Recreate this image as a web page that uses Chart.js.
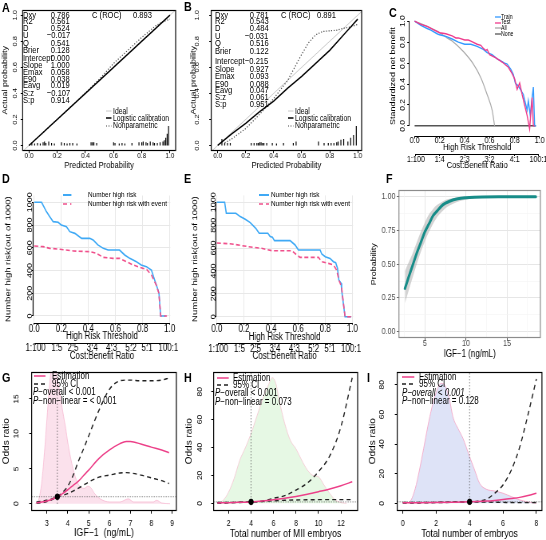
<!DOCTYPE html>
<html><head><meta charset="utf-8">
<script src="https://cdn.jsdelivr.net/npm/chart.js@4.4.1/dist/chart.umd.min.js"></script>
<style>
html,body{margin:0;padding:0;background:#fff;width:546px;height:540px;overflow:hidden;position:relative;font-family:'Liberation Sans',Arial,sans-serif}
.w{position:absolute}
.t{position:absolute;white-space:nowrap;color:#000;z-index:5}
</style></head><body>
<script>
const FR="'Liberation Sans',Arial,sans-serif";
const K=0.8; // horizontal squeeze of the figure

// ================= DATA =================
const unitTicks=[0,0.2,0.4,0.6,0.8,1.0];
const unitLabels=['0.0','0.2','0.4','0.6','0.8','1.0'];
const statNames=['Dxy','R2','D','U','Q','Brier','Intercept','Slope','Emax','E90','Eavg','S:z','S:p'];
const statsA=['0.786','0.561','0.524','\u22120.017','0.541','0.128','0.000','1.000','0.058','0.038','0.019','\u22120.107','0.914'];
const statsB=['0.781','0.543','0.484','\u22120.031','0.516','0.122','\u22120.215','0.927','0.093','0.088','0.047','0.061','0.951'];
const rocA='0.893', rocB='0.891';
const idealX=[-0.05,1.05], idealY=[-0.05,1.05];
const aLogX=[0,0.5,1], aLogY=[0,0.5,1];
const aNpX=[0.0,0.1,0.2,0.3,0.4,0.5,0.55,0.6,0.7,0.8,0.9,0.95,1.0];
const aNpY=[0.0,0.1,0.2,0.3,0.405,0.51,0.57,0.63,0.73,0.83,0.92,0.95,0.97];
const spAx=[0.02,0.04,0.06,0.08,0.10,0.11,0.12,0.14,0.16,0.18,0.23,0.25,0.27,0.29,0.31,0.34,0.44,0.45,0.46,0.48,0.60,0.61,0.64,0.66,0.68,0.73,0.78,0.80,0.81,0.83,0.84,0.86,0.88,0.89,0.91,0.93,0.95,0.96,0.97,0.98,0.99];
const spAh=[0.02,0.015,0.02,0.015,0.025,0.03,0.02,0.03,0.02,0.015,0.025,0.02,0.015,0.02,0.02,0.015,0.025,0.025,0.025,0.02,0.025,0.02,0.015,0.02,0.015,0.02,0.025,0.025,0.03,0.025,0.02,0.03,0.025,0.02,0.02,0.025,0.03,0.04,0.06,0.09,0.15];
const bLogX=[0,0.05,0.1,0.2,0.3,0.4,0.5,0.6,0.7,0.8,0.9,0.95,1.0];
const bLogY=[0,0.045,0.09,0.17,0.26,0.34,0.44,0.53,0.63,0.73,0.85,0.91,0.97];
const bNpX=[0.05,0.1,0.2,0.3,0.4,0.5,0.55,0.6,0.65,0.7,0.75,0.8,0.85,0.9,0.95,1.0];
const bNpY=[0.02,0.05,0.13,0.24,0.36,0.5,0.6,0.7,0.79,0.85,0.875,0.88,0.885,0.9,0.91,0.93];
const spBx=[0.03,0.05,0.07,0.09,0.24,0.26,0.28,0.29,0.30,0.31,0.32,0.33,0.35,0.39,0.42,0.47,0.54,0.56,0.72,0.76,0.79,0.81,0.83,0.85,0.86,0.88,0.90,0.93,0.95,0.97,0.99];
const spBh=[0.05,0.02,0.02,0.02,0.02,0.02,0.02,0.02,0.025,0.025,0.02,0.02,0.02,0.02,0.015,0.02,0.02,0.03,0.03,0.02,0.02,0.02,0.02,0.025,0.03,0.045,0.05,0.03,0.06,0.08,0.15];

const cRatioC=['1:100','1:4','2:3','3:2','4:1','100:1'];
const cTrainX=[0,0.05,0.1,0.13,0.18,0.2,0.25,0.3,0.35,0.4,0.45,0.5,0.55,0.58,0.62,0.66,0.69,0.72,0.74,0.77,0.79,0.805,0.83,0.85,0.87,0.89,0.9,0.91,0.925,0.94,0.95,0.96,0.97];
const cTrainY=[1,0.96,0.93,0.915,0.88,0.87,0.855,0.83,0.8,0.78,0.78,0.76,0.73,0.7,0.68,0.64,0.62,0.6,0.59,0.54,0.49,0.41,0.38,0.34,0.3,0.2,0.15,0.24,0.1,0.27,0.37,0.0,0.0];
const cTestX=[0,0.05,0.1,0.15,0.2,0.25,0.3,0.33,0.35,0.4,0.43,0.45,0.5,0.53,0.55,0.57,0.58,0.6,0.65,0.7,0.75,0.78,0.8,0.82,0.84,0.86,0.88,0.9,0.92,0.935,0.94,0.95,0.96];
const cTestY=[1,0.97,0.95,0.92,0.89,0.88,0.86,0.84,0.84,0.82,0.82,0.81,0.78,0.77,0.74,0.72,0.73,0.68,0.65,0.61,0.56,0.5,0.45,0.35,0.41,0.3,0.2,0.1,-0.03,0.2,0.27,0.0,0.0];
const cAllX=[0,0.1,0.2,0.26,0.3,0.39,0.47,0.53,0.58,0.62,0.64];
const cAllY=[1,0.95,0.89,0.84,0.81,0.71,0.59,0.46,0.3,0.15,0.0];
const cNoneX=[0,0.97], cNoneY=[0,0];

const cbLabels=['1:100','1:5','2:5','3:4','4:3','5:2','5:1','100:1'];
const nTicks=[0,200,400,600,800,1000];
const dHighX=[0,0.054,0.09,0.115,0.14,0.177,0.2,0.238,0.263,0.3,0.35,0.41,0.435,0.47,0.51,0.545,0.63,0.668,0.705,0.73,0.754,0.79,0.828,0.865,0.889,0.914,0.921,0.934,0.97];
const dHighY=[1000,1000,918,874,830,824,800,786,742,727,683,683,669,625,595,580,580,537,507,493,478,449,434,405,317,229,200,0,0];
const dEvX=[0,0.066,0.115,0.19,0.29,0.41,0.46,0.51,0.58,0.63,0.68,0.73,0.78,0.83,0.865,0.9,0.92,0.934,0.98];
const dEvY=[616,610,595,587,572,566,551,516,507,507,478,449,428,410,361,273,200,0,0];
const eHighX=[0,0.057,0.069,0.14,0.172,0.209,0.246,0.287,0.312,0.376,0.393,0.41,0.425,0.54,0.577,0.602,0.762,0.774,0.8,0.835,0.86,0.877,0.89,0.9,0.917,0.921,0.946,0.99];
const eHighY=[1000,1000,904,904,875,851,822,773,729,729,700,694,665,665,627,583,583,548,525,510,481,472,423,321,292,233,0,0];
const eEvX=[0,0.11,0.233,0.33,0.405,0.553,0.59,0.614,0.75,0.774,0.823,0.86,0.884,0.9,0.92,0.946,0.99];
const eEvY=[644,636,612,598,577,577,539,519,519,481,466,452,408,321,262,0,0];

const fX=[2.57,3,3.5,4,4.5,5,5.5,6,6.5,7,7.5,8,9,10,11,12,14,16,18.5];
const fY=[0.32,0.40,0.49,0.58,0.66,0.74,0.80,0.86,0.895,0.93,0.952,0.967,0.985,0.993,0.997,0.999,1.0,1.0,1.0];
const fLo=[0.21,0.30,0.40,0.50,0.59,0.67,0.74,0.80,0.85,0.885,0.915,0.935,0.963,0.978,0.988,0.994,0.998,1.0,1.0];
const fHi=[0.45,0.51,0.58,0.66,0.74,0.81,0.87,0.91,0.94,0.96,0.975,0.985,0.995,0.999,1.0,1.0,1.0,1.0,1.0];
const fTicksX=[5,10,15], fTicksY=[0,0.25,0.5,0.75,1.0];
const fLabelsY=['0.00','0.25','0.50','0.75','1.00'];
const fMinorX=[2.5,7.5,12.5,17.5], fMinorY=[0.125,0.375,0.625,0.875];

const gX=[2.5,2.75,3,3.25,3.5,3.75,4,4.25,4.5,4.75,5,5.5,6,6.5,6.8,7,7.5,8,8.5,8.85];
const gEst=[0.15,0.25,0.4,0.65,1.0,1.45,2.0,2.6,3.2,4.0,4.8,6.5,7.7,8.6,8.9,8.9,8.55,8.1,7.7,7.3];
const gUp=[0.25,0.35,0.5,0.7,1.0,1.6,2.5,4.0,6.0,7.8,9.7,13.4,16.4,17.6,17.7,17.7,17.6,17.6,17.7,18.0];
const gLo=[0.08,0.15,0.3,0.6,1.0,1.2,1.45,1.8,2.2,2.65,3.1,3.8,4.1,4.4,4.45,4.4,4.1,3.7,3.3,2.9];
const gDenX=[2.45,2.6,2.75,2.9,3.0,3.1,3.2,3.3,3.4,3.5,3.6,3.7,3.8,3.9,4.0,4.2,4.4,4.6,4.8,4.95,5.1,5.3,5.55,6.0,6.5,6.9,7.15,8.1,8.25,8.5,8.9];
const gDenY=[0,0.5,3,8,12,16,19,20,19.5,18,16.2,14.3,12.5,10.8,8.8,5.7,3.5,2.4,2.2,2.5,2.3,1.4,0.7,0.25,0.25,0.7,0.25,0.25,0.5,0.1,0];
const gRef=3.5;
const hX=[1,2,3,4,5,6,7,8,9,10,11,12,13];
const hEst=[0.25,0.45,0.7,1.0,1.6,2.5,3.6,4.9,6.5,8.3,10.2,12.6,15.4];
const hUp=[0.6,0.65,0.75,1.0,1.6,3.6,5.5,9.5,14.5,22.7,34,55,90];
const hLo=[0.1,0.3,0.6,1.0,1.3,1.8,2.2,2.4,2.5,2.6,2.6,2.6,2.6];
const hDenX=[1.1,1.5,2,2.5,3,3.5,4,4.5,5,5.5,5.9,6.2,6.5,7,7.5,8,8.5,9,9.5,10,10.5,11,11.5,12,12.5];
const hDenY=[0,2,8,18,31,40,50,62,74,84,90,86,74,57,45,39,31,24,20,19,13,7,2.4,0.5,0];
const hRef=4;
const iX=[0,1,2,3,4,4.5,5,5.5,6,6.5,7,7.5,8];
const iEst=[0.3,0.4,0.55,0.75,1.0,1.2,1.5,1.95,2.5,3.2,4.0,5.2,6.8];
const iUp=[0.6,0.6,0.65,0.8,1.0,1.4,2.7,6.8,12.4,22.5,38,60,84];
const iLo=[0.1,0.25,0.45,0.7,1.0,0.9,0.8,0.7,0.6,0.5,0.45,0.45,0.5];
const iDenX=[0.3,0.5,0.75,1,1.25,1.5,1.75,2,2.3,2.5,2.8,3,3.3,3.6,4,4.3,4.6,5,5.5,6,6.5,7,7.5,8];
const iDenY=[0,2.2,10,22.5,37,52,65,75,81,80,70,58.5,50.7,44,31.5,22.5,13.5,9.5,8.3,6.8,4.5,2.3,0.9,0];
const iRef=4;

// ================= HELPERS =================
const meas=document.createElement('canvas').getContext('2d');
const textW=(s,size,fam)=>{meas.font=size+'px '+fam;return meas.measureText(s).width;};
const pts=(xs,ys)=>xs.map((x,i)=>({x,y:ys[i]}));
const spikes=(xs,hs)=>xs.flatMap((x,i)=>[{x,y:0},{x,y:hs[i]},{x,y:null}]);
const ratioPos=l=>{const [a,b]=l.split(':').map(Number);return a/(a+b);};
const L=(data,color,w,o={})=>Object.assign({data,showLine:true,borderColor:color,backgroundColor:color,borderWidth:w,pointRadius:0,fill:false,tension:0,xAxisID:'x',yAxisID:'y'},o);

function axX(a,top,bottom,weight){
  const tl=a.tl??3, h=bottom-top, size=a.size;
  const lpad=a.labY-top-tl-size/2;
  const ts=a.titleSize||9;
  const tpad=a.title?bottom-a.titleY-ts/2:0;
  const tv=a.tickVals;
  return {type:'linear',position:'bottom',weight,min:a.min,max:a.max,bounds:'data',
    afterBuildTicks:s=>{s.ticks=tv.map(v=>({value:v}));},
    afterFit:s=>{s.height=h;s.paddingLeft=s.paddingRight=s.paddingTop=s.paddingBottom=0;},
    ticks:{display:a.labels!==null,autoSkip:false,maxRotation:0,minRotation:0,padding:lpad,color:a.color||'#000',font:{family:FR,size,lineHeight:1},callback:(v,i)=>a.labels?a.labels[i]:''},
    grid:{display:true,drawOnChartArea:!!a.grid,color:a.grid||'#000',lineWidth:a.gridW||1,drawTicks:tl>0,tickLength:tl,tickColor:a.tickColor||'#000',tickWidth:1},
    border:{display:false},
    title:a.title?{display:true,text:a.title,color:'#000',font:{family:FR,size:ts,lineHeight:1},padding:{top:0,bottom:tpad}}:{display:false}};
}
// left/right given in page px; converted to internal (unsqueezed) px
function axY(a,left,right){
  const tl=a.tl??3, w=(right-left)/K, size=a.size;
  const rot=a.rot!==false;
  let lpad=0;
  if(a.labels){
    if(rot){const widest=Math.max(...a.labels.map(s=>textW(s,size,FR)));lpad=(right-a.labX)/K-tl-widest/2;}
    else lpad=(right-a.labX)/K-tl;
  }
  const ts=a.titleSize||9;
  const tpad=a.title?(a.titleX-left)/K-ts/2:0;
  const tv=a.tickVals;
  return {type:'linear',position:'left',weight:a.weight||0,min:a.min,max:a.max,bounds:'data',
    afterBuildTicks:s=>{s.ticks=tv.map(v=>({value:v}));},
    afterFit:s=>{s.width=w;s.paddingLeft=s.paddingRight=s.paddingTop=s.paddingBottom=0;},
    ticks:{display:!!a.labels,autoSkip:false,minRotation:rot?90:0,maxRotation:rot?90:0,crossAlign:rot?'center':'near',padding:lpad,color:a.color||'#000',font:{family:FR,size,lineHeight:1},callback:(v,i)=>a.labels?a.labels[i]:''},
    grid:{display:true,drawOnChartArea:!!a.grid,color:a.grid||'#000',lineWidth:a.gridW||1,drawTicks:tl>0,tickLength:tl,tickColor:a.tickColor||'#000',tickWidth:1},
    border:{display:false},
    title:a.title?{display:true,text:a.title,color:'#000',font:{family:FR,size:ts,lineHeight:1},padding:{top:tpad,bottom:0}}:{display:false}};
}

const framePlugin={id:'frame',afterDatasetsDraw(chart,args,o){
  if(!o||!o.on)return;const {left,top,right,bottom}=chart.chartArea;const c=chart.ctx;
  c.save();c.strokeStyle=o.color||'#000';c.lineWidth=o.width||1.2;
  c.strokeRect(left,Math.round(top)+0.5,right-left,Math.round(bottom)-Math.round(top)-1);c.restore();}};
const raxisPlugin={id:'raxis',afterDraw(chart,args,o){
  if(!o||!o.ids)return;const c=chart.ctx;c.save();c.strokeStyle='#000';c.lineWidth=1.1;
  o.ids.forEach(id=>{const s=chart.scales[id];const t=s.ticks;const a=s.getPixelForValue(t[0].value),b=s.getPixelForValue(t[t.length-1].value);
    c.beginPath();if(s.isHorizontal()){const y=Math.round(s.top)+0.5;c.moveTo(a,y);c.lineTo(b,y);}else{const x=s.right-0.6;c.moveTo(x,a);c.lineTo(x,b);}c.stroke();});
  c.restore();}};
Chart.register(framePlugin,raxisPlugin);

function build(o){
  const [bx,by,bw,bh]=o.box,[Lf,Tp,Rt,Bt]=o.area;
  const iw=Math.round(bw/K);
  const wrap=document.createElement('div');wrap.className='w';
  wrap.style.cssText=`left:${bx}px;top:${by}px;width:${bw}px;height:${bh}px`;
  const cv=document.createElement('canvas');cv.width=iw;cv.height=bh;cv.style.cssText=`width:${bw}px;height:${bh}px;display:block`;
  wrap.appendChild(cv);document.body.appendChild(wrap);
  const scales={};
  scales.x=axX(o.x,Bt,o.x2?o.x2.line:by+bh,0);
  if(o.x2)scales.x2=axX(Object.assign({min:o.x.min,max:o.x.max},o.x2),o.x2.line,by+bh,1);
  scales.y=axY(o.y,bx,Lf);
  if(o.extra)Object.assign(scales,o.extra);
  const n=o.datasets.length;
  o.datasets.forEach((d,i)=>{d.order=n-i;});
  new Chart(cv,{type:'scatter',data:{datasets:o.datasets},options:{responsive:false,maintainAspectRatio:false,animation:false,events:[],devicePixelRatio:1,
    layout:{autoPadding:false,padding:{left:0,top:Tp-by,right:iw-(Rt-bx)/K,bottom:0}},
    scales,plugins:{legend:{display:false},tooltip:{enabled:false},frame:o.frame||{},raxis:{ids:o.raxis||[]}}}});
}
function T(x,y,html,size,o={}){
  const d=document.createElement('div');d.className='t';d.innerHTML=html;
  d.style.top=(y-size/2)+'px';d.style.fontSize=size+'px';d.style.lineHeight=size+'px';
  const k=o.k??K;
  if(o.right){d.style.right=(546-x)+'px';d.style.transformOrigin='right center';}
  else{d.style.left=x+'px';d.style.transformOrigin='left center';}
  d.style.transform=`scaleX(${k})`;
  if(o.bold)d.style.fontWeight='bold';
  d.style.fontFamily=FR;
  if(o.color)d.style.color=o.color;
  document.body.appendChild(d);
}
function S(x1,x2,y,color,w,dash){
  const ns='http://www.w3.org/2000/svg';const s=document.createElementNS(ns,'svg');
  s.setAttribute('width',x2-x1);s.setAttribute('height',6);
  s.style.cssText=`position:absolute;left:${x1}px;top:${y-3}px;z-index:5;overflow:visible`;
  const l=document.createElementNS(ns,'line');l.setAttribute('x1',0);l.setAttribute('x2',x2-x1);l.setAttribute('y1',3);l.setAttribute('y2',3);
  l.setAttribute('stroke',color);l.setAttribute('stroke-width',w);if(dash)l.setAttribute('stroke-dasharray',dash);
  s.appendChild(l);document.body.appendChild(s);
}

// ================= PANELS =================
const calib=(ox,xmin,xmax,logX,logY,npX,npY,spx,sph,labX,titleX)=>build({
  box:[ox,0,182,180],area:[ox===0?22.7:211.3,10,ox===0?176:362,150.7],frame:{on:true},
  x:{min:xmin,max:xmax,tickVals:unitTicks,labels:unitLabels,size:8,labY:155.3,tl:2.5,title:'Predicted Probability',titleSize:9.5,titleY:165.3},
  y:{min:-0.04,max:1.04,tickVals:unitTicks,labels:unitLabels,size:7.5,labX,tl:2.5,title:'Actual probability',titleSize:9,titleX},
  datasets:[
    L(pts(idealX,idealY),'#c8c8c8',1),
    L(spikes(spx,sph),'#000',1.2),
    L(pts(npX,npY),'#444',1.2,{borderDash:[1.2,2]}),
    L(pts(logX,logY),'#000',1.5)
  ]});
calib(0,-0.045,1.04,aLogX,aLogY,aNpX,aNpY,spAx,spAh,15,5);
calib(182,-0.046,1.028,bLogX,bLogY,bNpX,bNpY,spBx,spBh,197,193.7);

build({box:[364,0,182,180],area:[409.7,16.8,545,135.5],raxis:['x','x2','y'],
  x:{min:-0.04,max:1.04,tickVals:unitTicks,labels:unitLabels,size:9,labY:140.3,tl:3,title:'High Risk Threshold',titleSize:9.5,titleY:147},
  x2:{line:154,tickVals:cRatioC.map(ratioPos),labels:cRatioC,size:9,labY:159.5,tl:2,title:'Cost:Benefit Ratio',titleSize:9.5,titleY:165.3},
  y:{min:-0.092,max:1.042,tickVals:unitTicks,labels:unitLabels,size:8.5,labX:403,tl:3,title:'Standardized net benefit',titleSize:9,titleX:393},
  datasets:[
    L(pts(cNoneX,cNoneY),'#555',1.5),
    L(pts(cAllX,cAllY),'#a8a8a8',1.2,{cubicInterpolationMode:'monotone'}),
    L(pts(cTrainX,cTrainY),'#3399ff',1.4),
    L(pts(cTestX,cTestY),'#ee3a8c',1.4)
  ]});

const impact=(ox,area,ymin,labYs,x2line,highX,highY,evX,evY,labX,titleX)=>build({
  box:[ox,180,182,180],area,raxis:['x','x2','y'],
  x:{min:-0.005,max:1.005,tickVals:unitTicks,labels:unitLabels,size:10,labY:labYs[0]+0.5,tl:2,title:'High Risk Threshold',titleSize:10,titleY:labYs[1],grid:'#e8e8e8'},
  x2:{line:x2line,tickVals:cbLabels.map(ratioPos),labels:cbLabels,size:10,labY:labYs[2],tl:2,title:'Cost:Benefit Ratio',titleSize:10,titleY:labYs[3]},
  y:{min:ymin,max:1060,tickVals:nTicks,labels:nTicks.map(String),size:9,labX,tl:2,title:'Number high risk(out of 1000)',titleSize:9.5,titleX,grid:'#e8e8e8'},
  datasets:[
    L(pts(highX,highY),'#3fa9f5',1.6),
    L(pts(evX,evY),'#f0508c',1.6,{borderDash:[5,3]})
  ]});
impact(0,[33.6,195.5,170.7,322.7],-59,[328.3,336.7,348.3,356.7],342.7,dHighX,dHighY,dEvX,dEvY,29.7,8.3);
impact(182,[216.3,195.4,353.4,322.7],-52,[328.3,337.7,349.3,356.7],343.3,eHighX,eHighY,eEvX,eEvY,213.3,195.3);

build({box:[364,180,182,180],area:[399,190,540.7,338.4],frame:{on:true,color:'#8c8c8c'},
  x:{min:1.84,max:19.05,tickVals:fTicksX,labels:fTicksX.map(String),size:9,color:'#4d4d4d',tickColor:'#555',labY:343.5,tl:2.5,title:'IGF\u22121 (ng/mL)',titleSize:10,titleY:354,grid:'#e6e6e6'},
  y:{min:-0.05,max:1.05,tickVals:fTicksY,labels:fLabelsY,rot:false,size:9,color:'#4d4d4d',tickColor:'#555',labX:395.7,tl:2.5,title:'Probability',titleSize:9,titleX:374,grid:'#e6e6e6'},
  extra:{
    xm:axX({min:1.84,max:19.05,tickVals:fMinorX,labels:null,size:8,labY:0,tl:0,grid:'#f3f3f3',gridW:0.6},0,0,2),
    ym:axY({min:-0.05,max:1.05,tickVals:fMinorY,labels:null,size:8,tl:0,grid:'#f3f3f3',gridW:0.6,weight:2},0,0)
  },
  datasets:[
    L(pts(fX,fLo),'rgba(0,0,0,0)',0,{cubicInterpolationMode:'monotone'}),
    L(pts(fX,fHi),'rgba(0,0,0,0)',0,{cubicInterpolationMode:'monotone',fill:0,backgroundColor:'rgba(175,175,175,0.55)'}),
    L(pts(fX,fY),'#178c88',3,{cubicInterpolationMode:'monotone',borderCapStyle:'round'})
  ]});

const rcs=(ox,area,xa,ya,denX,denY,denFill,denLine,X,Est,Up,Lo,ref)=>build({
  box:[ox,360,182,180],area,frame:{on:true},
  x:Object.assign({size:8.5,labY:523.3,tl:3,titleSize:11},xa),
  y:Object.assign({size:8.5,tl:3,title:'Odds ratio',titleSize:10},ya),
  datasets:[
    L(pts(denX,denY),denLine,1,{fill:'origin',backgroundColor:denFill,cubicInterpolationMode:'monotone'}),
    L(pts([xa.min,xa.max],[1,1]),'#555',1,{borderDash:[1,2]}),
    L(pts([ref,ref],[0,ya.max]),'#555',1,{borderDash:[1,2]}),
    L(pts(X,Lo),'#222',1.4,{borderDash:[5,4],cubicInterpolationMode:'monotone'}),
    L(pts(X,Up),'#222',1.4,{borderDash:[5,4],cubicInterpolationMode:'monotone'}),
    L(pts(X,Est),'#ec3f88',1.5,{cubicInterpolationMode:'monotone'}),
    {data:[{x:ref,y:1}],showLine:false,pointRadius:2.8,backgroundColor:'#000',borderColor:'#000',xAxisID:'x',yAxisID:'y'}
  ]});
rcs(0,[31.7,371.7,176.7,510.7],{min:2.27,max:9.2,tickVals:[3,4,5,6,7,8,9],labels:['3','4','5','6','7','8','9'],title:'IGF\u22121  (ng/mL)',titleY:533.3},
  {min:-1.0,max:18.9,tickVals:[0,5,10,15],labels:['0','5','10','15'],labX:16.7,titleX:6.7},
  gDenX,gDenY,'rgba(248,200,220,0.55)','rgba(245,170,200,0.6)',gX,gEst,gUp,gLo,gRef);
rcs(182,[213.7,371.7,358,510.7],{min:0.67,max:13.48,tickVals:[2,4,6,8,10,12],labels:['2','4','6','8','10','12'],title:'Total number of MII embryos',titleY:534.3},
  {min:-5.3,max:94.3,tickVals:[0,20,40,60,80],labels:['0','20','40','60','80'],labX:200.3,titleX:189.3},
  hDenX,hDenY,'rgba(200,240,195,0.45)','rgba(245,190,205,0.7)',hX,hEst,hUp,hLo,hRef);
rcs(364,[397.3,371.7,542.3,510.7],{min:-0.33,max:8.33,tickVals:[0,2,4,6,8],labels:['0','2','4','6','8'],title:'Total number of embryos',titleY:534},
  {min:-5,max:88.9,tickVals:[0,20,40,60,80],labels:['0','20','40','60','80'],labX:382.3,titleX:373.3},
  iDenX,iDenY,'rgba(190,200,240,0.5)','rgba(245,160,195,0.8)',iX,iEst,iUp,iLo,iRef);

// ================= TEXT OVERLAYS =================
const letters=[['A',1.5,7.5],['B',183.5,7],['C',389,12.5],['D',1.5,179],['E',183.5,179],['F',385.7,179],['G',1.7,377.5],['H',183.7,377.5],['I',366.7,377.5]];
letters.forEach(([s,x,y])=>T(x,y,s,12,{bold:true,k:0.9}));
const rowsA=[14.5,21,27.6,35,42.7,50,57.3,65,71.7,78.3,85,92.7,99.3];
const rowsB=[14.5,21,27.6,36,42.7,50.7,60.7,68.3,76,83.3,89.3,96.7,103.3];
statNames.forEach((s,i)=>{T(23.3,rowsA[i],s,9.5);T(70,rowsA[i],statsA[i],9.5,{right:true});
  T(215,rowsB[i],s,9.5);T(268.3,rowsB[i],statsB[i],9.5,{right:true});});
T(91.7,14.5,'C (ROC)',9.5);T(133.3,14.5,rocA,9.5);
T(281,14.5,'C (ROC)',9.5);T(317,14.5,rocB,9.5);
[[106,113.3],[288,295.3]].forEach(([sx,tx])=>{
  S(sx,sx+5.5,111,'#c8c8c8',1);S(sx,sx+5.5,118.3,'#000',1.5);S(sx,sx+5.5,125.7,'#444',1.2,'1,1.5');
  T(tx,111,'Ideal',8.5);T(tx,118.3,'Logistic calibration',8.5);T(tx,125.7,'Nonparametric',8.5);});
[['Train','#3399ff',17],['Test','#ee3a8c',22.7],['All','#a8a8a8',28.3],['None','#555',34]].forEach(([s,c,y])=>{S(494.7,500.7,y,c,1.3);T(501.3,y,s,6.5);});
[[63.3,71.7,88.3],[258.7,268.7,271.3]].forEach(([a,b,tx])=>{
  S(a,b,195,'#3fa9f5',2);S(a,b,204,'#f0508c',1.5,'4,3');
  T(tx,195,'Number high risk',8);T(tx,204,'Number high risk with event',8);});
const rcsLeg=[[34,45.5,51.7,33.3,[375.7,384,392.3,400.7],'<i>P</i>\u2212overall &lt; 0.001','<i>P</i>\u2212non\u2212linear = &lt; 0.001'],
  [217,228.7,232.7,215.3,[378.3,385,393.3,401.7],'<i>P</i>\u2212overall &lt; 0.001','<i>P</i>\u2212non\u2212linear = 0.073'],
  [401.7,414,419,401.7,[377.3,384.3,392.7,401],'<i>P\u2212overall &lt; 0.001</i>','<i>P</i>\u2212non\u2212linear = 0.128']];
rcsLeg.forEach(([a,b,tx,px,ys,p1,p2])=>{
  S(a,b,ys[0],'#ec3f88',1.5);S(a,b,ys[1],'#222',1.3,'4,3');
  T(tx,ys[0],'Estimation',10);T(tx,ys[1],'95% CI',10);T(px,ys[2],p1,10);T(px,ys[3],p2,10);});
</script></body></html>
